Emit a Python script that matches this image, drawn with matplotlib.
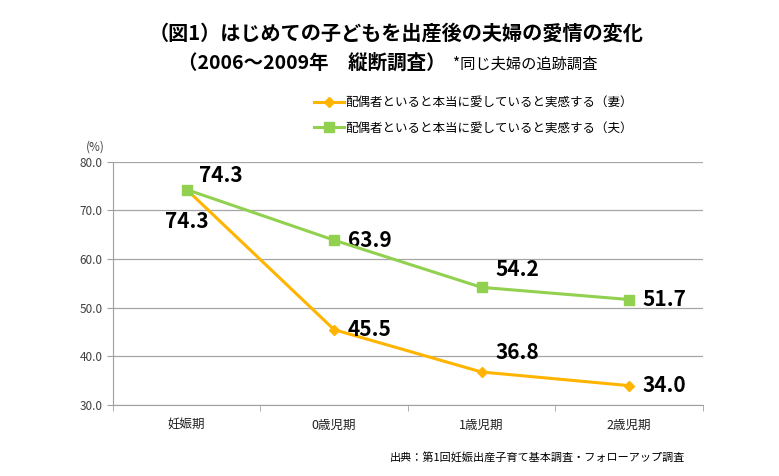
import matplotlib.pyplot as plt
from matplotlib.lines import Line2D

plt.rcParams['font.family'] = ['Noto Sans CJK JP', 'DejaVu Sans']

periods = ['妊娠期', '0歳児期', '1歳児期', '2歳児期']
wife = [74.3, 45.5, 36.8, 34.0]
husband = [74.3, 63.9, 54.2, 51.7]
wife_label = '配偶者といると本当に愛していると実感する（妻）'
husband_label = '配偶者といると本当に愛していると実感する（夫）'
yticks = [30, 40, 50, 60, 70, 80]

orange = '#FFB400'
green = '#92D050'

fig = plt.figure(figsize=(7.79, 4.76), dpi=100)
ax = fig.add_axes([0.145, 0.149, 0.757, 0.511])

x = list(range(len(periods)))
ax.plot(x, wife, color=orange, lw=2.2, marker='D', ms=5.5, zorder=3)
ax.plot(x, husband, color=green, lw=2.2, marker='s', ms=7, zorder=4)

ax.set_xlim(-0.5, 3.5)
ax.set_ylim(30, 80)
ax.set_yticks(yticks)
ax.set_yticklabels([f'{v:.1f}' for v in yticks], fontsize=8.5, color='#404040')
ax.set_xticks(x)
ax.set_xticklabels(periods, fontsize=9, color='#202020')
ax.set_xticks([-0.5, 0.5, 1.5, 2.5, 3.5], minor=True)
ax.tick_params(axis='x', which='major', length=0, pad=10)
ax.tick_params(axis='x', which='minor', length=4, color='#a0a0a0')
ax.tick_params(axis='y', length=4, color='#a0a0a0')
ax.grid(axis='y', color='#a6a6a6', lw=0.9)
ax.set_axisbelow(True)
for s in ['top', 'right']:
    ax.spines[s].set_visible(False)
for s in ['left', 'bottom']:
    ax.spines[s].set_color('#a0a0a0')

# data labels
lab = dict(fontsize=15, fontweight='bold', color='black')
wife_off = [(0, -23), (10, 0), (10, 14), (10, 0)]
husb_off = [(9, 10), (10, 0), (10, 13), (10, 0)]
for i in x:
    ax.annotate(f'{wife[i]:.1f}', (i, wife[i]), xytext=wife_off[i],
                textcoords='offset points', ha='left' if i else 'center',
                va='center', **lab)
    ax.annotate(f'{husband[i]:.1f}', (i, husband[i]), xytext=husb_off[i],
                textcoords='offset points', ha='left', va='center', **lab)

ax.text(-0.03, 1.06, '(%)', transform=ax.transAxes, fontsize=8.5,
        color='#404040', ha='center', va='center')

handles = [Line2D([0], [0], color=orange, lw=2.2, marker='D', ms=5.5),
           Line2D([0], [0], color=green, lw=2.2, marker='s', ms=7)]
fig.legend(handles, [wife_label, husband_label], loc='center left',
           bbox_to_anchor=(0.388, 0.758), frameon=False, fontsize=9,
           handlelength=2.4, handletextpad=0.1, labelspacing=1.0)

fig.text(0.508, 0.93, '（図1）はじめての子どもを出産後の夫婦の愛情の変化',
         ha='center', va='center', fontsize=14.5, fontweight='bold')
fig.text(0.572, 0.868, '（2006～2009年　縦断調査）', ha='right', va='center',
         fontsize=14, fontweight='bold')
fig.text(0.582, 0.866, '*同じ夫婦の追跡調査', ha='left', va='center',
         fontsize=11)
fig.text(0.5, 0.038, '出典：第1回妊娠出産子育て基本調査・フォローアップ調査',
         ha='left', va='center', fontsize=8)

fig.savefig('out.png', dpi=100)
